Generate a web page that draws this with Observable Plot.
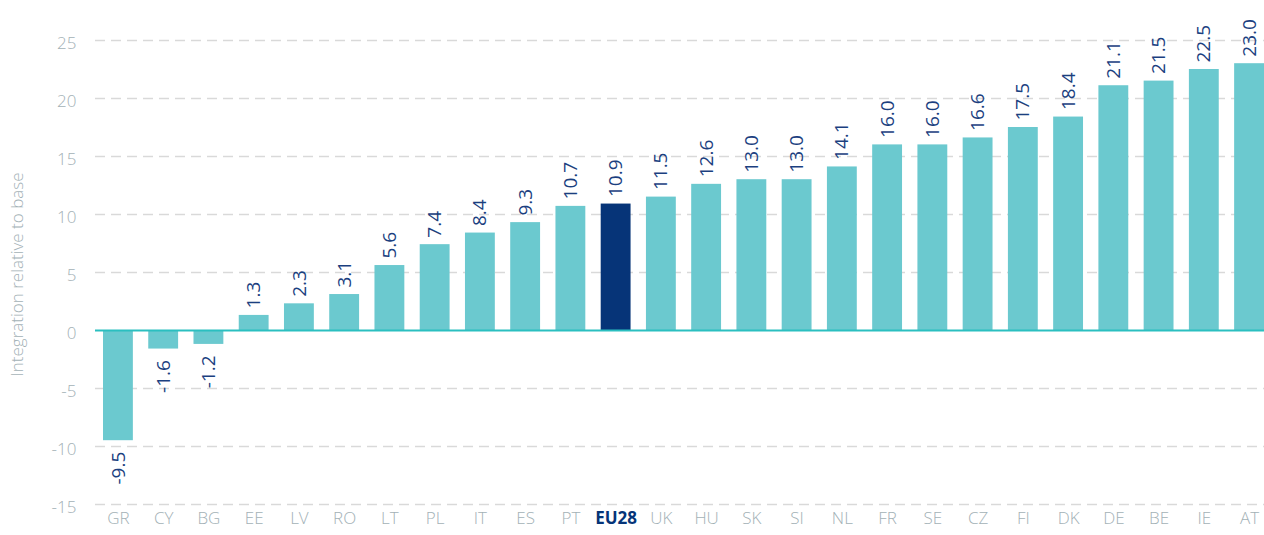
<!DOCTYPE html>
<html>
<head>
<meta charset="utf-8">
<script src="https://cdn.jsdelivr.net/npm/d3@7"></script>
<script src="https://cdn.jsdelivr.net/npm/@observablehq/plot@0.6"></script>
<style>
  html, body { margin: 0; padding: 0; background: #fff; overflow: hidden; }
  #chart svg { display: block; }
</style>
</head>
<body>
<div id="chart"></div>
<script>
const countries = ["GR","CY","BG","EE","LV","RO","LT","PL","IT","ES","PT","EU28","UK","HU","SK","SI","NL","FR","SE","CZ","FI","DK","DE","BE","IE","AT"];
const values = [-9.5,-1.6,-1.2,1.3,2.3,3.1,5.6,7.4,8.4,9.3,10.7,10.9,11.5,12.6,13.0,13.0,14.1,16.0,16.0,16.6,17.5,18.4,21.1,21.5,22.5,23.0];
const highlight = "EU28";
const yTicks = [-15,-10,-5,0,5,10,15,20,25];
const gridTicks = [-15,-10,-5,5,10,15,20,25];
const yLabel = "Integration relative to base";

const data = countries.map((c, i) => ({country: c, value: values[i]}));
const teal = "#6bc9cf";
const navy = "#063478";
const labelNavy = "#1b3f7f";
const gray = "#a3b1b6";
const font = "'Open Sans', 'Noto Sans', sans-serif";

const chart = Plot.plot({
  width: 1264,
  height: 535,
  marginTop: 40,
  marginBottom: 31,
  marginLeft: 103,
  marginRight: 0,
  style: {fontFamily: font, background: "#fff"},
  x: {domain: countries, paddingInner: 0.34, paddingOuter: 0, round: false, axis: null},
  y: {domain: [-15, 25], ticks: yTicks},
  marks: [
    Plot.ruleY(gridTicks, {stroke: "#d9d9d9", strokeWidth: 1.5, strokeDasharray: "10,6", insetLeft: -8}),
    Plot.axisY({ticks: yTicks, tickSize: 0, tickPadding: 27, dy: 3, fontSize: 17, fill: gray, fontWeight: 300,
      tickFormat: d => String(d), label: null}),
    Plot.text([yLabel], {frameAnchor: "left", textAnchor: "middle", dx: -86, dy: 2, rotate: -90, fill: gray, fontSize: 17, fontWeight: 300, text: d => d}),
    Plot.barY(data, {x: "country", y: "value", fill: d => d.country === highlight ? navy : teal}),
    Plot.ruleY([0], {stroke: "#2bbfc0", strokeWidth: 2, insetLeft: -8}),
    Plot.text(data.filter(d => d.value >= 0), {x: "country", y: "value", text: d => d.value.toFixed(1),
      rotate: -90, textAnchor: "start", dy: -7, fill: labelNavy, fontSize: 19}),
    Plot.text(data.filter(d => d.value < 0), {x: "country", y: "value", text: d => d.value.toFixed(1),
      rotate: -90, textAnchor: "end", dy: 11, fill: labelNavy, fontSize: 19}),
    Plot.text(countries.filter(c => c !== highlight), {x: d => d, frameAnchor: "bottom", dy: 19, fill: gray, fontSize: 17, fontWeight: 300}),
    Plot.text([highlight], {x: d => d, frameAnchor: "bottom", dy: 19, fill: navy, fontSize: 17, fontWeight: "bold"})
  ]
});
document.getElementById("chart").appendChild(chart);
</script>
</body>
</html>
